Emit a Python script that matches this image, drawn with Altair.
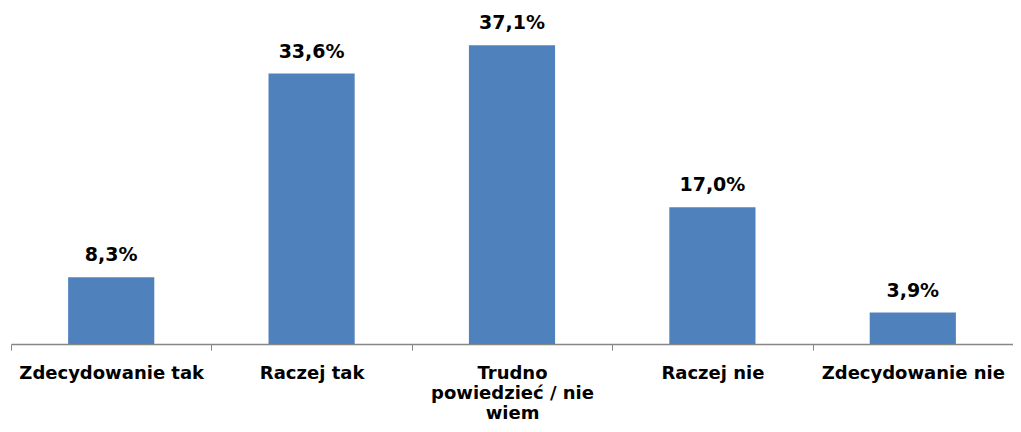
import altair as alt
import pandas as pd

categories = ["Zdecydowanie tak", "Raczej tak", "Trudno powiedzieć / nie wiem", "Raczej nie", "Zdecydowanie nie"]
values = [8.3, 33.6, 37.1, 17.0, 3.9]

df = pd.DataFrame({"cat": categories, "val": values})
df["label"] = df["val"].map(lambda v: f"{v:.1f}".replace(".", ",") + "%")

FONT = "DejaVu Sans"

x = alt.X(
    "cat:N",
    sort=categories,
    title=None,
    scale=alt.Scale(paddingInner=0, paddingOuter=0),
    axis=alt.Axis(
        labelAngle=0,
        labelFont=FONT,
        labelFontWeight="bold",
        labelFontSize=18,
        labelColor="#000000",
        labelPadding=14,
        labelLineHeight=20,
        labelBaseline="top",
        labelLimit=300,
        tickBand="extent",
        tickSize=6,
        tickColor="#868686",
        domainColor="#868686",
        domainWidth=1.5,
        grid=False,
        labelExpr="datum.label == 'Trudno powiedzieć / nie wiem' ? ['Trudno', 'powiedzieć / nie', 'wiem'] : datum.label",
    ),
)
y = alt.Y("val:Q", scale=alt.Scale(domain=[0, 40]), axis=None)

bars = alt.Chart(df).mark_bar(color="#4F81BD", width=alt.RelativeBandSize(0.43)).encode(x=x, y=y)
text = alt.Chart(df).mark_text(
    font=FONT, fontWeight="bold", fontSize=19, baseline="bottom", dy=-12, color="#000000"
).encode(x=x, y=y, text="label:N")

chart = (
    alt.layer(bars, text)
    .properties(
        width=1002,
        height=322,
        padding={"left": 3, "top": 14, "right": 0, "bottom": 80},
        autosize=alt.AutoSizeParams(type="none"),
        view=alt.ViewBackground(stroke="transparent", strokeWidth=0),
    )
    .configure_view(stroke="transparent", strokeWidth=0, strokeOpacity=0)
    .configure(background="#ffffff")
)

chart.save("out.html", embed_options={"renderer": "svg", "actions": False})
